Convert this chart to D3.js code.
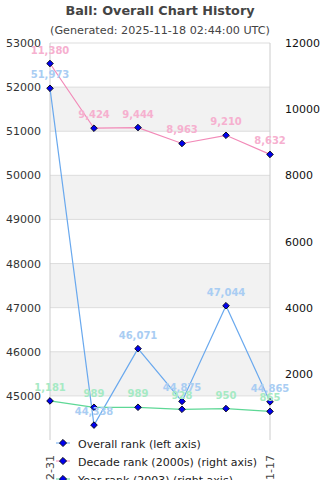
<!DOCTYPE html>
<html>
<head>
<meta charset="utf-8">
<script src="https://cdn.jsdelivr.net/npm/d3@7"></script>
<style>
body{margin:0;background:#fff;}
</style>
</head>
<body>
<div class="chart"></div>
<script>
// chart data
var dates=['2003-12-31','2004-12-31','2005-12-31','2006-12-31','2015-12-31','2025-11-17'];
var overallRank=[51973,44338,46071,44875,47044,44865];
var decadeRank=[11380,9424,9444,8963,9210,8632];
var yearRank=[1181,989,989,928,950,865];
var leftTicks=[45000,46000,47000,48000,49000,50000,51000,52000,53000];
var rightTicks=[2000,4000,6000,8000,10000,12000];

function drawChart(){
	var width=320,height=480;
	var pLeft=50,pRight=270,pTop=43,pBottom=440;

	var svg=d3.select('div.chart')
		.append('svg')
		.attr('width',width)
		.attr('height',height)
		.style('display','block')
		.style('font-family','DejaVu Sans, sans-serif');

	var xScale=d3.scalePoint().domain(dates).range([pLeft,pRight]);
	var yLeft=d3.scaleLinear().domain([44000,53000]).range([pBottom,pTop]);
	var yRight=d3.scaleLinear().domain([0,12000]).range([pBottom,pTop]);

	// alternating bands
	var bands=[];
	for(var i=0;i<leftTicks.length-1;i++){
		if((53000-leftTicks[i+1])%2000==1000) bands.push([leftTicks[i],leftTicks[i+1]]);
	}
	svg.selectAll('rect.band')
		.data(bands)
		.enter()
		.append('rect')
		.attr('x',pLeft)
		.attr('width',pRight-pLeft)
		.attr('y',d=>yLeft(d[1]))
		.attr('height',d=>yLeft(d[0])-yLeft(d[1]))
		.attr('fill','#f2f2f2');

	svg.selectAll('line.grid')
		.data(leftTicks)
		.enter()
		.append('line')
		.attr('x1',pLeft).attr('x2',pRight)
		.attr('y1',d=>yLeft(d)).attr('y2',d=>yLeft(d))
		.attr('stroke','#dddddd');

	// axes
	var gl=svg.append('g')
		.attr('transform','translate('+pLeft+',0)')
		.call(d3.axisLeft(yLeft).tickValues(leftTicks).tickSize(0).tickPadding(9).tickFormat(d3.format('d')));
	gl.select('.domain').attr('stroke','#cccccc').attr('d','M0,'+pTop+'V'+pBottom);
	gl.selectAll('text').attr('font-size','11px').attr('fill','#333').attr('font-family','DejaVu Sans, sans-serif');

	var gr=svg.append('g')
		.attr('transform','translate('+pRight+',0)')
		.call(d3.axisRight(yRight).tickValues(rightTicks).tickSize(0).tickPadding(15).tickFormat(d3.format('d')));
	gr.select('.domain').attr('stroke','#cccccc').attr('d','M0,'+pTop+'V'+pBottom);
	gr.selectAll('text').attr('font-size','11px').attr('fill','#111').attr('font-family','DejaVu Sans, sans-serif');

	// x labels
	svg.selectAll('text.xlab')
		.data(dates)
		.enter()
		.append('text')
		.attr('transform',d=>'translate('+(xScale(d)+4)+',455) rotate(-90)')
		.attr('text-anchor','end')
		.attr('font-size','11px')
		.attr('fill','#444')
		.text(d=>d);

	var series=[
		{name:'Overall rank (left axis)',vals:overallRank,y:yLeft,line:'#6aa9ee',lab:'#a9cdf3'},
		{name:'Decade rank (2000s) (right axis)',vals:decadeRank,y:yRight,line:'#f28ab8',lab:'#f6b0cf'},
		{name:'Year rank (2003) (right axis)',vals:yearRank,y:yRight,line:'#5ed896',lab:'#a6eac4'}
	];
	var fmt=d3.format(',');
	var marker=d3.symbol().type(d3.symbolSquare).size(22);

	series.forEach(function(s){
		var line=d3.line()
			.x((d,i)=>xScale(dates[i]))
			.y(d=>s.y(d));
		svg.append('path')
			.attr('d',line(s.vals))
			.attr('fill','none')
			.attr('stroke',s.line)
			.attr('stroke-width',1.2);
	});
	series.forEach(function(s){
		svg.selectAll(null)
			.data(s.vals)
			.enter()
			.append('path')
			.attr('d',marker)
			.attr('transform',(d,i)=>'translate('+xScale(dates[i])+','+s.y(d)+') rotate(45)')
			.attr('fill','#0000ee')
			.attr('stroke','#000')
			.attr('stroke-width',0.8);
	});
	series.forEach(function(s){
		svg.selectAll(null)
			.data(s.vals)
			.enter()
			.append('text')
			.attr('x',(d,i)=>xScale(dates[i]))
			.attr('y',d=>s.y(d)-10)
			.attr('text-anchor','middle')
			.attr('font-size','10px')
			.attr('font-weight','bold')
			.attr('fill',s.lab)
			.text(d=>fmt(d));
	});

	// title
	svg.append('text')
		.attr('x',160).attr('y',15)
		.attr('text-anchor','middle')
		.attr('font-size','12.8px')
		.attr('font-weight','bold')
		.attr('fill','#444')
		.text('Ball: Overall Chart History');
	svg.append('text')
		.attr('x',160).attr('y',34)
		.attr('text-anchor','middle')
		.attr('font-size','11.2px')
		.attr('fill','#444')
		.text('(Generated: 2025-11-18 02:44:00 UTC)');

	// legend
	var lg=svg.append('g');
	lg.append('rect')
		.attr('x',56).attr('y',433)
		.attr('width',206).attr('height',50)
		.attr('fill','#fff');
	var items=lg.selectAll('g')
		.data(series)
		.enter()
		.append('g')
		.attr('transform',(d,i)=>'translate(63,'+(443+i*18)+')');
	items.append('line')
		.attr('x1',-7).attr('x2',7)
		.attr('stroke',d=>d.line);
	items.append('path')
		.attr('d',d3.symbol().type(d3.symbolSquare).size(26))
		.attr('transform','rotate(45)')
		.attr('fill','#0000ee')
		.attr('stroke','#000')
		.attr('stroke-width',0.8);
	items.append('text')
		.attr('x',15).attr('y',5)
		.attr('font-size','11px')
		.attr('fill','#222')
		.text(d=>d.name);
}
drawChart();
</script>
</body>
</html>
